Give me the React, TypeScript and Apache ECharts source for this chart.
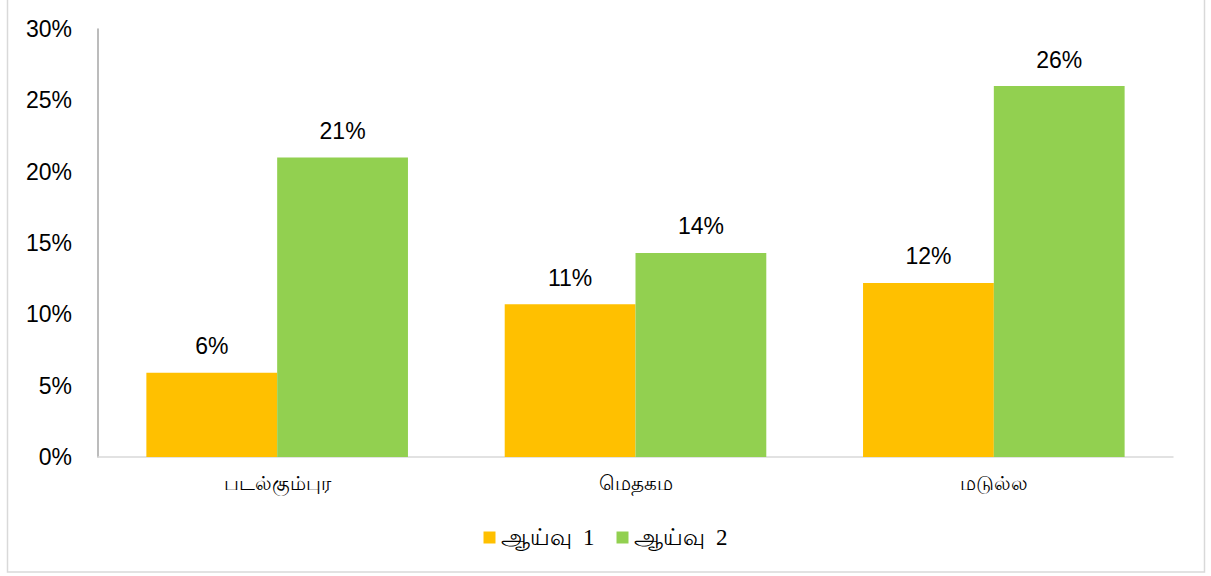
import React, { useEffect, useRef } from "react";
import * as echarts from "echarts";

const categories = ["படல்கும்புர", "மெதகம", "மடுல்ல"];
const seriesNames = ["ஆய்வு\u00a0\u00a01", "ஆய்வு\u00a0\u00a02"];
const survey1 = [5.9, 10.7, 12.2];
const survey2 = [21.0, 14.3, 26.0];
const yTicks = [0, 5, 10, 15, 20, 25, 30];
const colors = ["#FFC000", "#92D050"];

export default function App() {
  const ref = useRef<HTMLDivElement>(null);
  useEffect(() => {
    if (!ref.current) return;
    const chart = echarts.init(ref.current, undefined, { renderer: "svg" });
    const labelFont = { fontFamily: "'Liberation Sans', Arial, sans-serif", fontSize: 23, color: "#000" };
    chart.setOption({
      animation: false,
      backgroundColor: "#fff",
      graphic: [
        {
          type: "rect",
          shape: { x: 7.5, y: -2, width: 1197, height: 574 },
          style: { fill: "none", stroke: "#d9d9d9", lineWidth: 1.5 },
          silent: true,
        },
      ],
      grid: { left: 98, right: 38, top: 29, bottom: 119, containLabel: false },
      legend: {
        bottom: 22,
        left: "center",
        itemWidth: 12,
        itemHeight: 12,
        itemGap: 22,
        icon: "rect",
        textStyle: { fontFamily: "serif", fontSize: 23, color: "#000" },
        data: seriesNames,
      },
      xAxis: {
        type: "category",
        data: categories,
        axisLine: { show: true, lineStyle: { color: "#d9d9d9", width: 1.5 } },
        axisTick: { show: false },
        axisLabel: { fontFamily: "serif", fontSize: 20, color: "#000", margin: 16 },
      },
      yAxis: {
        type: "value",
        min: yTicks[0],
        max: yTicks[yTicks.length - 1],
        interval: 5,
        axisLine: { show: true, lineStyle: { color: "#a6a6a6", width: 1.5 } },
        axisTick: { show: false },
        splitLine: { show: false },
        axisLabel: { ...labelFont, margin: 26, formatter: (v: number) => v + "%" },
      },
      series: [
        {
          name: seriesNames[0],
          type: "bar",
          data: survey1,
          barGap: "0%",
          barCategoryGap: "27%",
          itemStyle: { color: colors[0] },
          label: {
            show: true,
            position: "top",
            distance: 15,
            ...labelFont,
            formatter: (p: any) => Math.round(p.value) + "%",
          },
        },
        {
          name: seriesNames[1],
          type: "bar",
          data: survey2,
          barGap: "0%",
          barCategoryGap: "27%",
          itemStyle: { color: colors[1] },
          label: {
            show: true,
            position: "top",
            distance: 15,
            ...labelFont,
            formatter: (p: any) => Math.round(p.value) + "%",
          },
        },
      ],
    });
    return () => chart.dispose();
  }, []);
  return (
    <div
      ref={ref}
      style={{ position: "absolute", left: 0, top: 0, width: 1211, height: 576 }}
    />
  );
}
